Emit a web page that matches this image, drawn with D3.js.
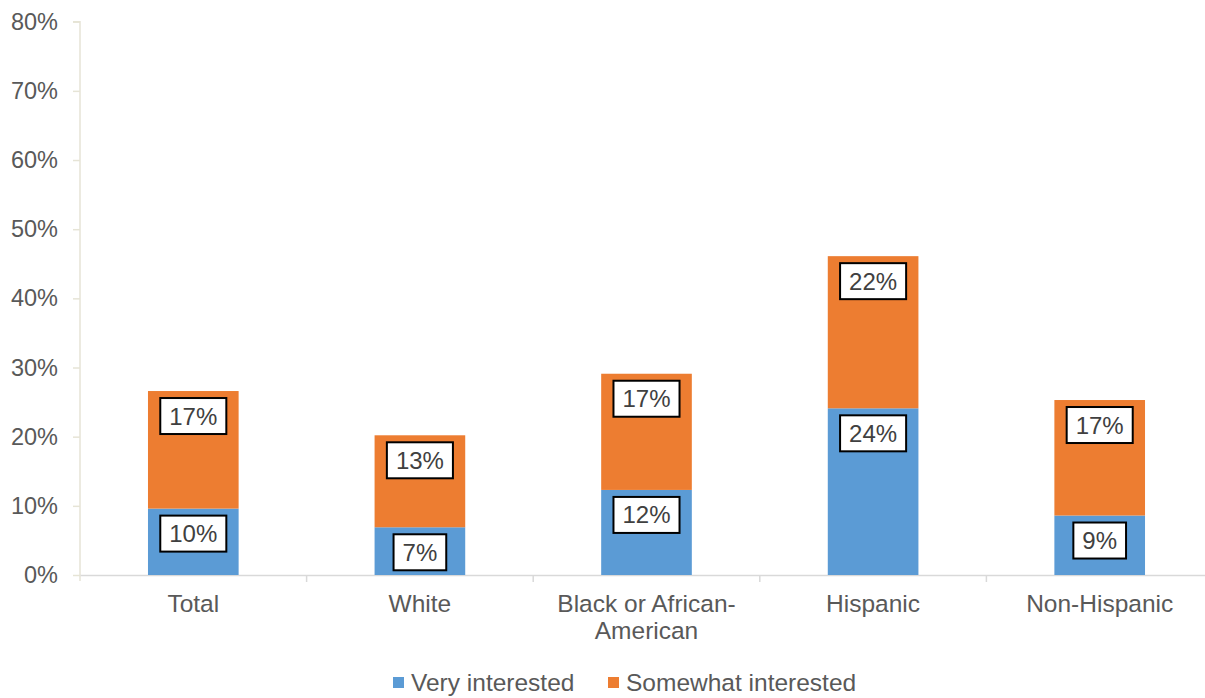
<!DOCTYPE html>
<html><head><meta charset="utf-8">
<script src="https://cdn.jsdelivr.net/npm/d3@7"></script>
<style>body{margin:0;background:#fff;}svg{display:block;font-family:"Liberation Sans",Arial,sans-serif;}</style>
</head><body><svg id="c" width="1205" height="698"></svg>
<script>
const categories = ["Total","White","Black or African-American","Hispanic","Non-Hispanic"];
const veryInterested = [9.6, 6.9, 12.3, 24.1, 8.6];
const somewhatInterested = [17.0, 13.3, 16.8, 22.0, 16.7];
const seriesNames = ["Very interested","Somewhat interested"];
const seriesColors = ["#5b9bd5","#ed7d31"];
const yTicks = [0,10,20,30,40,50,60,70,80];

const svg = d3.select("#c");
const mLeft = 80, mRight = 1213, mTop = 21.7, mBottom = 575;
const x = d3.scaleBand().domain(categories).range([mLeft, mRight]).paddingInner(0.6).paddingOuter(0.3);
const xb = d3.scaleBand().domain(categories).range([mLeft, mRight]);
const y = d3.scaleLinear().domain([0,80]).range([mBottom, mTop]);

const data = categories.map((c,i)=>({cat:c, v0:veryInterested[i], v1:somewhatInterested[i]}));
const stack = d3.stack().keys(["v0","v1"])(data);

// y axis
const ya = svg.append("g").attr("transform",`translate(${mLeft},0)`)
  .call(d3.axisLeft(y).tickValues(yTicks).tickFormat(d=>d+"%").tickSize(7).tickPadding(15));
ya.select(".domain").attr("stroke","#e6e4d6").attr("stroke-width",1.5).attr("d",`M-7,${mTop}H0V${mBottom+6}`);
ya.selectAll(".tick line").attr("stroke","#e6e4d6").attr("stroke-width",1.5);
ya.selectAll(".tick text").attr("fill","#595959").style("font-size","23.5px").style("font-family","Liberation Sans, Arial, sans-serif");

// x axis
const xa = svg.append("g").attr("transform",`translate(0,${mBottom})`)
  .call(d3.axisBottom(xb).tickSize(0).tickPadding(0).tickFormat(""));
xa.select(".domain").attr("stroke","#d9d9d9").attr("stroke-width",1.5);
xa.selectAll(".tick").remove();
svg.append("g").selectAll("line").data(categories.slice(1)).join("line")
  .attr("x1",d=>xb(d)).attr("x2",d=>xb(d)).attr("y1",mBottom).attr("y2",mBottom+7)
  .attr("stroke","#d9d9d9").attr("stroke-width",1.5);

// category labels
const catG = svg.append("g");
categories.forEach(c=>{
  const cx = xb(c)+xb.bandwidth()/2;
  const lines = c.length>20 ? c.replace(/-/,"-\n").split("\n") : [c];
  const t = catG.append("text").attr("x",cx).attr("y",612).attr("text-anchor","middle")
    .attr("fill","#595959").style("font-size","24.5px");
  lines.forEach((l,i)=>t.append("tspan").attr("x",cx).attr("dy",i===0?0:27).text(l));
});

// bars
const bars = svg.append("g");
stack.forEach((s,si)=>{
  bars.append("g").attr("fill",seriesColors[si]).selectAll("rect").data(s).join("rect")
    .attr("x",d=>x(d.data.cat)).attr("width",x.bandwidth())
    .attr("y",d=>y(d[1])).attr("height",d=>y(d[0])-y(d[1]));
});

// labels
const lab = svg.append("g");
stack.forEach((s,si)=>{
  s.forEach(d=>{
    const val = d[1]-d[0];
    const txt = Math.round(val)+"%";
    const cx = x(d.data.cat)+x.bandwidth()/2;
    const cy = y(d[1])+25;
    const g = lab.append("g");
    const t = g.append("text").attr("x",cx).attr("y",cy+8.5).attr("text-anchor","middle")
      .attr("fill","#404040").style("font-size","24px").text(txt);
    const w = t.node().getComputedTextLength()+18;
    g.insert("rect","text").attr("x",cx-w/2).attr("y",cy-18).attr("width",w).attr("height",36)
      .attr("fill","#fff").attr("stroke","#000").attr("stroke-width",2);
  });
});

// legend
const leg = svg.append("g");
const legX = [393, 608];
seriesNames.forEach((n,i)=>{
  leg.append("rect").attr("x",legX[i]).attr("y",677).attr("width",11).attr("height",11).attr("fill",seriesColors[i]);
  leg.append("text").attr("x",legX[i]+18).attr("y",691).attr("fill","#595959").style("font-size","24.5px").text(n);
});
</script></body></html>
